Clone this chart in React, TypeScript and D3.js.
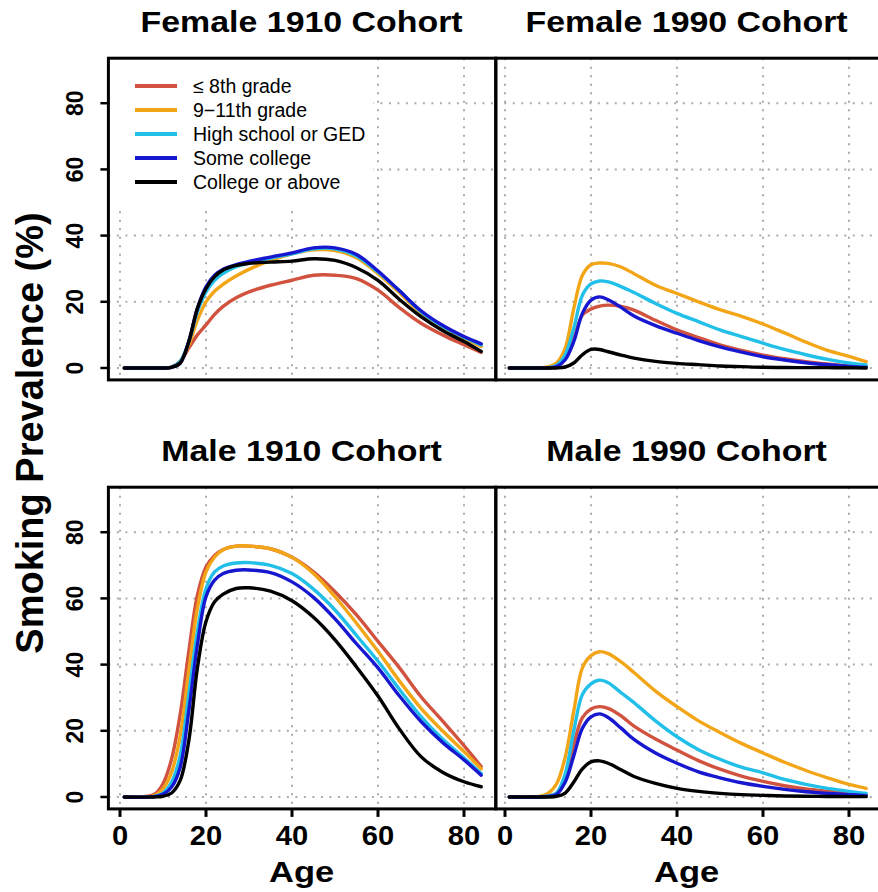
import React from 'react';
import * as d3 from 'd3';

// ---------- data ----------
const ages = [1, 8, 10, 12, 14, 16, 18, 20, 22, 24, 27, 30, 35, 40, 45, 50, 55, 60, 65, 70, 75, 80, 84];
const categories = ['\u2264 8th grade', '9\u221211th grade', 'High school or GED', 'Some college', 'College or above'];
const seriesColors = ['#d1533f', '#f2a516', '#22bfe9', '#1717cf', '#000000'];
const panelTitles = ['Female 1910 Cohort', 'Female 1990 Cohort', 'Male 1910 Cohort', 'Male 1990 Cohort'];
const xTicks = [0, 20, 40, 60, 80];
const yTicks = [0, 20, 40, 60, 80];

// Female 1910 cohort
const f1910_le8 = [0, 0, 0, 0.3, 2, 6, 10, 13, 16.2, 18.6, 21.2, 23, 25, 26.5, 28, 28, 27, 23.5, 18.2, 13.5, 10, 7, 4.7];
const f1910_911 = [0, 0, 0, 0.3, 2, 7, 14.5, 20, 23.2, 25.3, 27.8, 29.8, 32.5, 34.5, 35.7, 35.5, 33.3, 28.5, 22.7, 16.5, 12.4, 9, 6.5];
const f1910_hs = [0, 0, 0, 0.3, 2, 8, 17, 23, 26.5, 28.6, 30.6, 31.7, 33.2, 34.5, 36, 36, 33.8, 29, 23.3, 17, 12.6, 9.3, 7];
const f1910_sc = [0, 0, 0, 0.2, 1.5, 8, 18, 24.5, 28, 29.8, 31.2, 32.2, 33.5, 34.8, 36.3, 36.3, 34.3, 29.3, 23.3, 17.3, 12.9, 9.5, 7.3];
const f1910_col = [0, 0, 0, 0.2, 1.5, 8, 18, 24, 27.6, 29.6, 31, 31.6, 32, 32.3, 33, 32.5, 30.3, 26.5, 20.7, 15.5, 11.3, 8, 5];

// Female 1990 cohort
const f1990_le8 = [0, 0, 0, 0.5, 3, 9, 16, 17.8, 18.7, 19, 18.6, 17.5, 14.4, 11.5, 9.2, 7, 5.3, 3.9, 2.8, 1.9, 1.2, 0.6, 0.4];
const f1990_911 = [0, 0, 0.3, 1.5, 6, 18, 28, 31.2, 31.7, 31.6, 30.5, 28.5, 25, 22.5, 20, 17.6, 15.6, 13.3, 10.6, 7.8, 5.3, 3.5, 1.9];
const f1990_hs = [0, 0, 0.1, 0.8, 4, 12, 22, 25.4, 26.3, 26, 24.6, 22.8, 19.5, 16.5, 14, 11.5, 9.5, 7.5, 5.6, 4, 2.6, 1.5, 0.9];
const f1990_sc = [0, 0, 0, 0.4, 2.5, 8, 16.5, 20.5, 21.5, 20.6, 18.3, 15.7, 12.8, 10.5, 8.3, 6.4, 4.8, 3.4, 2.4, 1.6, 1, 0.5, 0.2];
const f1990_col = [0, 0, 0, 0, 0.3, 1.5, 4, 5.6, 5.6, 4.9, 3.9, 3, 2, 1.4, 1, 0.6, 0.4, 0.2, 0.15, 0.1, 0.1, 0.05, 0];

// Male 1910 cohort
const m1910_le8 = [0, 0.8, 4, 11.5, 25, 44, 61, 69.5, 73, 74.8, 75.8, 75.8, 75, 72.4, 68, 62, 55, 47, 39, 30.3, 23, 15.5, 9.2];
const m1910_911 = [0, 0.4, 2.5, 7.5, 18.5, 38, 57, 68, 72.5, 74.7, 75.8, 75.8, 75, 72.4, 67.5, 60.5, 52.5, 44, 35, 26.8, 20, 13.7, 8.5];
const m1910_hs = [0, 0.2, 1.2, 4.5, 12.5, 31, 50, 63, 68, 69.8, 70.7, 70.8, 70, 67.5, 62.8, 56.5, 48.8, 41, 32.5, 24.3, 17.5, 11.8, 7.1];
const m1910_sc = [0, 0.1, 0.8, 3, 9, 26, 46, 60.5, 65.5, 67.5, 68.5, 68.6, 67.8, 65, 60.3, 53.8, 46.3, 39, 30.5, 22.8, 16.5, 11.2, 6.6];
const m1910_col = [0, 0, 0.2, 1.2, 5, 17, 39, 53, 59, 61.3, 63, 63.2, 62.2, 59.3, 54.3, 47.5, 39.3, 30.5, 20.5, 12.2, 7.5, 4.6, 3.1];

// Male 1990 cohort
const m1990_le8 = [0, 0, 0.3, 1.2, 6, 16, 24, 26.6, 27.3, 26.8, 24.5, 21.4, 17.5, 14.2, 11, 8.4, 6.3, 4.7, 3.4, 2.4, 1.7, 1.1, 0.6];
const m1990_911 = [0, 0.2, 1.1, 4, 12, 26, 39, 42.7, 43.9, 43.3, 40.8, 37.6, 32, 27.3, 23, 19.5, 16.2, 13.3, 10.5, 8, 5.8, 3.8, 2.6];
const m1990_hs = [0, 0, 0.3, 1.2, 7, 20, 31, 34.2, 35.3, 34.5, 31.5, 28.5, 23, 18.2, 14.3, 11.4, 9, 7.3, 5.3, 3.8, 2.6, 1.7, 1.1];
const m1990_sc = [0, 0, 0.2, 0.8, 4.5, 12.5, 20.8, 24.2, 25.1, 24, 20.8, 17.4, 13.3, 10.2, 7.6, 5.8, 4.3, 3.2, 2.3, 1.6, 1.1, 0.7, 0.4];
const m1990_col = [0, 0, 0, 0.2, 1.2, 4.5, 8.5, 10.6, 10.9, 10.2, 8.2, 6.2, 4.1, 2.6, 1.7, 1.1, 0.7, 0.5, 0.3, 0.2, 0.15, 0.1, 0.1];

const panelSeries = [
  [f1910_le8, f1910_911, f1910_hs, f1910_sc, f1910_col],
  [f1990_le8, f1990_911, f1990_hs, f1990_sc, f1990_col],
  [m1910_le8, m1910_911, m1910_hs, m1910_sc, m1910_col],
  [m1990_le8, m1990_911, m1990_hs, m1990_sc, m1990_col],
];

// ---------- layout ----------
const W = 878;
const H = 892;
const FONT = "'Liberation Sans', Arial, Helvetica, sans-serif";
const xDomain: [number, number] = [0, 80];
const colRange = [[120, 464], [505, 849]];
const colFrame = [[108.4, 495.8], [495.8, 884]];
const yDomain: [number, number] = [-3.6, 93.6];
const rowTop = [58.2, 487.2];
const panelH = 321.7;

export default function App() {
  const panels = panelTitles.map((title, i) => {
    const col = i % 2;
    const row = Math.floor(i / 2);
    const x = d3.scaleLinear().domain(xDomain).range(colRange[col]);
    const y = d3.scaleLinear().domain(yDomain).range([rowTop[row] + panelH, rowTop[row]]);
    return { title, col, row, x, y, series: panelSeries[i] };
  });

  return (
    <svg
      width={W}
      height={H}
      viewBox={`0 0 ${W} ${H}`}
      style={{ position: 'absolute', left: 0, top: 0, background: '#fff' }}
      fontFamily={FONT}
    >
      <rect x={0} y={0} width={W} height={H} fill="#fff" />
      {panels.map((p, i) => {
        const [x0, x1] = colFrame[p.col];
        const [yb, yt] = p.y.range();
        const line = d3
          .line<number>()
          .x((_, k) => p.x(ages[k]))
          .y((v) => p.y(v))
          .curve(d3.curveCatmullRom.alpha(0.5));
        const cx = (p.x(0) + p.x(84)) / 2 + 1;
        return (
          <g key={i}>
            {/* grid */}
            {xTicks.map((t) => (
              <line key={'gx' + t} x1={p.x(t)} x2={p.x(t)} y1={yt} y2={yb} stroke="#ababab" strokeWidth={2} strokeDasharray="2 6.5" />
            ))}
            {yTicks.map((t) => (
              <line key={'gy' + t} x1={x0} x2={x1} y1={p.y(t)} y2={p.y(t)} stroke="#ababab" strokeWidth={2} strokeDasharray="2 6.5" />
            ))}
            {/* legend background (top-left panel) */}
            {i === 0 && <rect x={x0 + 1} y={yt + 1} width={264} height={149} fill="#fff" />}
            {/* curves */}
            {p.series.map((vals, s) => (
              <path key={s} d={line(vals) || ''} fill="none" stroke={seriesColors[s]} strokeWidth={3.4} strokeLinejoin="round" strokeLinecap="round" />
            ))}
            {/* frame */}
            <rect x={x0} y={yt} width={x1 - x0} height={yb - yt} fill="none" stroke="#000" strokeWidth={3} />
            {/* y axis (left column only) */}
            {p.col === 0 &&
              yTicks.map((t) => (
                <g key={'yt' + t}>
                  <line x1={x0 - 8} x2={x0} y1={p.y(t)} y2={p.y(t)} stroke="#000" strokeWidth={2.5} />
                  <text
                    transform={`translate(83,${p.y(t)}) rotate(-90)`}
                    textAnchor="middle"
                    fontSize={23}
                    fontWeight="bold"
                  >
                    {t}
                  </text>
                </g>
              ))}
            {/* x axis (bottom row only) */}
            {p.row === 1 &&
              xTicks.map((t) => (
                <g key={'xt' + t}>
                  <line x1={p.x(t)} x2={p.x(t)} y1={yb} y2={yb + 8} stroke="#000" strokeWidth={3} />
                  <text transform={`translate(${p.x(t)},845) scale(1.08,1)`} textAnchor="middle" fontSize={27} fontWeight="bold">
                    {t}
                  </text>
                </g>
              ))}
            {p.row === 1 && (
              <text transform={`translate(${cx},882) scale(1.15,1)`} textAnchor="middle" fontSize={30} fontWeight="bold">
                Age
              </text>
            )}
            {/* title */}
            <text
              transform={`translate(${cx},${p.row === 0 ? 32 : 461}) scale(1.13,1)`}
              textAnchor="middle"
              fontSize={30}
              fontWeight="bold"
            >
              {p.title}
            </text>
            {/* legend */}
            {i === 0 &&
              categories.map((c, s) => (
                <g key={'lg' + s}>
                  <line x1={135} x2={177} y1={86 + s * 24} y2={86 + s * 24} stroke={seriesColors[s]} strokeWidth={4} />
                  <text x={193} y={86 + s * 24 + 7} fontSize={19.5}>
                    {c}
                  </text>
                </g>
              ))}
          </g>
        );
      })}
      {/* shared y label */}
      <text transform="translate(43,433) rotate(-90)" textAnchor="middle" fontSize={38} fontWeight="bold">
        Smoking Prevalence (%)
      </text>
    </svg>
  );
}
